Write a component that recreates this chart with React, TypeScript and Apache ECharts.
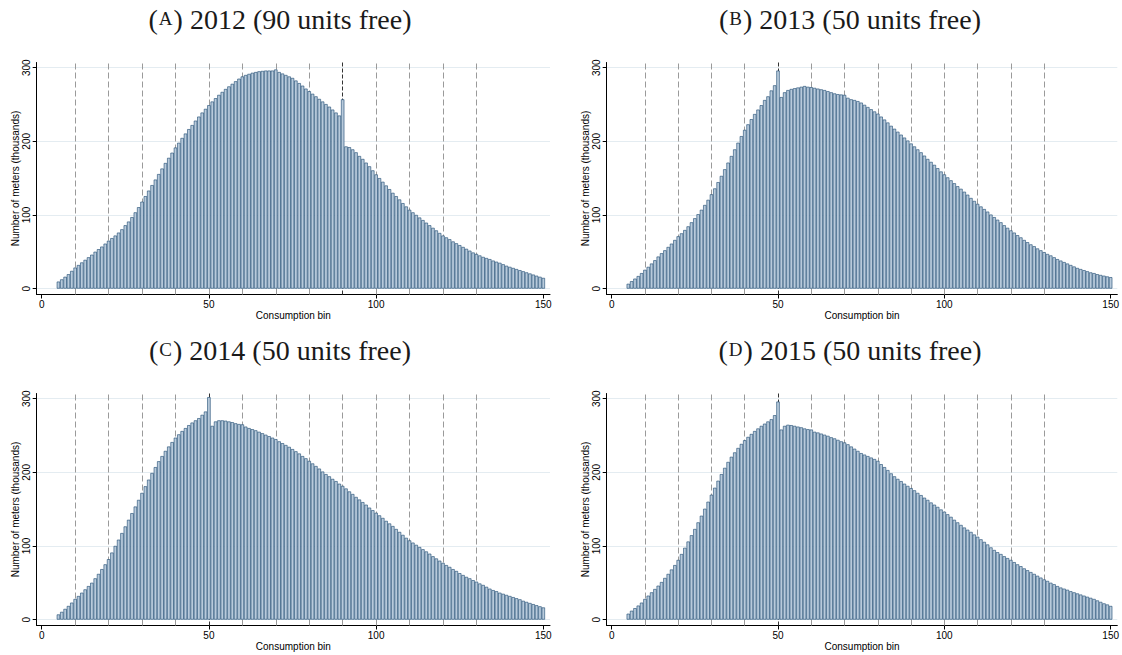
import React, { useEffect, useRef } from "react";
import * as echarts from "echarts";

// Consumption bins 5..150 (one bar per unit bin)
const bins: number[] = [];
for (let b = 5; b <= 150; b++) bins.push(b);

const years = ["2012", "2013", "2014", "2015"];
const letters = ["A", "B", "C", "D"];
const freeUnits = [90, 50, 50, 50];
const refLines = [10, 20, 30, 40, 50, 60, 70, 80, 90, 100, 110, 120, 130];
const yTicks = [0, 100, 200, 300];
const xTicks = [0, 50, 100, 150];
const xName = "Consumption bin";
const yName = "Number of meters (thousands)";

// Number of meters (thousands) per bin, bins 5..150
const v2012 = [
  9.5, 12.5, 16, 19.5, 24, 28.5, 32, 35.5, 39, 42.5,
  46, 50, 53.5, 57, 61, 65, 68.5, 72, 76, 80.5,
  86, 91, 97, 103.5, 110.5, 118, 125.5, 133, 140.5, 148,
  155.5, 163, 170.5, 177.5, 184.5, 191.5, 198, 204.5, 210.5, 216.5,
  222, 228, 233.5, 239, 244, 249, 254, 258.5, 263, 267,
  271, 274.5, 278, 281.5, 285, 288, 290, 291.5, 293, 294,
  295, 295.5, 296, 296, 296, 297.5, 294, 292, 290, 288,
  286, 282.5, 279, 275.5, 271.5, 268, 264.5, 261, 257.5, 254,
  250.5, 247, 243, 239, 235, 257, 193, 192, 189, 185,
  180, 176, 171, 166, 160.5, 155, 150, 145, 140, 135,
  130, 125.5, 121, 116, 111.5, 107, 103.5, 100, 96.5, 93,
  89.5, 86, 82.5, 79, 75.5, 72, 69.5, 67, 64, 61.5,
  59, 56.5, 54, 51.5, 49, 47, 45, 43, 41.5, 40,
  38, 36.5, 35, 33, 31, 29.5, 28, 26.5, 25, 23.5,
  22, 20.5, 19, 17.5, 16, 14.5,
];
const v2013 = [
  6.5, 10, 13.5, 17, 21, 25.5, 29.5, 34, 38.5, 43.5,
  48, 52, 56.5, 61, 66, 71, 75, 79.5, 84.5, 90,
  95.5, 101, 107, 113.5, 120.5, 128, 136, 144.5, 153, 162,
  171, 180, 189, 198, 207, 215.5, 223, 230, 237, 243,
  249, 256, 261, 269, 276, 296, 260, 266.5, 269.5, 271,
  272, 273, 274, 275, 274, 273.5, 272.5, 271.5, 270.5, 269.5,
  268, 266.5, 265, 264, 263.5, 263, 259, 257, 256, 254.5,
  252.5, 249.5, 246.5, 243.5, 240.5, 237.5, 233.5, 229.5, 225.5, 221,
  217, 213, 209, 205, 201, 197, 193, 189, 185, 180.5,
  176, 172, 168, 163.5, 159, 155, 151, 147, 143, 139,
  135.5, 131.5, 127.5, 123, 119, 115, 111.5, 108, 104.5, 100.5,
  97, 93.5, 90, 86, 82.5, 79, 76, 72.5, 69.5, 66,
  63, 60, 57.5, 54.5, 52, 49.5, 47, 45, 42.5, 40,
  38, 36, 34, 32, 30, 28, 26.5, 25, 23.5, 22,
  21, 19.5, 18.5, 17.5, 16.5, 15.5,
];
const v2014 = [
  7, 10.5, 14.5, 18.5, 23, 28, 32, 36.5, 41, 45.5,
  50, 56, 62, 68.5, 75, 82, 91, 100, 108.5, 117.5,
  126.5, 135.5, 144.5, 153.5, 162.5, 172, 181, 190, 199, 207,
  215, 222, 229, 235, 241, 247, 251.5, 256, 260, 264,
  267.5, 270.5, 273.5, 278, 282.5, 302, 263, 269, 270.5, 270.5,
  270, 269, 268, 266.5, 265.5, 265, 262, 260, 258.5, 257,
  255, 253, 251, 249, 247, 245, 242, 239.5, 237, 234.5,
  231.5, 228.5, 225.5, 222, 219, 215.5, 212, 208.5, 205, 201,
  197.5, 194.5, 191, 188, 184.5, 181.5, 178, 174, 170.5, 166.5,
  163, 159.5, 156, 152, 148.5, 145, 141.5, 138, 134, 130.5,
  127, 123, 119, 115, 111, 107.5, 104.5, 101.5, 98.5, 95.5,
  92.5, 89.5, 86, 83, 80, 77, 74, 71.5, 68.5, 66,
  63, 60.5, 58, 56, 53.5, 51.5, 49, 47, 44.5, 42,
  40, 38.5, 36.5, 35, 33.5, 32, 30.5, 29, 27.5, 25.5,
  24, 22.5, 21, 19.5, 18, 16.5,
];
const v2015 = [
  8, 12, 15.5, 19, 23, 28, 32.5, 37, 41.5, 46,
  51, 56.5, 62, 68, 74, 81, 89, 97.5, 106, 114.5,
  123, 132, 141, 150.5, 160, 169.5, 179, 188.5, 197.5, 206,
  214, 221, 227, 233, 238.5, 243.5, 248, 252, 256, 259.5,
  263, 266, 269, 272, 277.5, 296, 258, 263, 264.5, 264,
  263, 262, 261, 259.5, 258.5, 258, 255, 254, 252.5, 251,
  249.5, 247.5, 246, 244, 242, 240.5, 238, 235, 232, 229,
  226, 224, 222, 220, 218, 215.5, 211, 207, 203, 198.5,
  194.5, 191, 188, 184.5, 181.5, 178.5, 175.5, 172, 169, 165.5,
  162.5, 159, 156, 153, 149.5, 146.5, 143, 139.5, 135.5, 132,
  128.5, 125, 122, 119, 115.5, 112.5, 109, 105.5, 102, 98,
  94.5, 91.5, 89, 86, 83.5, 81, 78, 75, 72.5, 69.5,
  67, 64.5, 62, 59.5, 57, 54.5, 52.5, 50, 48, 45.5,
  43.5, 42, 40.5, 38.5, 37, 35.5, 34, 32.5, 31, 29.5,
  28, 26, 24, 22, 20.5, 18.5,
];
const seriesValues = [v2012, v2013, v2014, v2015];

// layout (pixels)
const layout = [
  { left: 36.7, top: 62.5, width: 513.3, tx: 280, ty: 19 },
  { left: 606.7, top: 62.5, width: 512.7, tx: 850, ty: 19 },
  { left: 36.7, top: 393.5, width: 513.3, tx: 280, ty: 350.5 },
  { left: 606.7, top: 393.5, width: 512.7, tx: 850, ty: 350.5 },
];
const GRID_H = 232;
const X_MIN = -1.5;
const X_MAX = 152;
const Y_MIN = -8;
const Y_MAX = 307;
const SANS = "Liberation Sans, Arial, sans-serif";
const SERIF = "Liberation Serif, Times New Roman, serif";

function buildOption() {
  const grid: any[] = [];
  const xAxis: any[] = [];
  const yAxis: any[] = [];
  const series: any[] = [];
  const graphic: any[] = [];

  layout.forEach((L, i) => {
    grid.push({ left: L.left, top: L.top, width: L.width, height: GRID_H, containLabel: false });
    xAxis.push({
      gridIndex: i,
      type: "value",
      min: X_MIN,
      max: X_MAX,
      name: xName,
      nameLocation: "middle",
      nameGap: 15,
      nameTextStyle: { fontFamily: SANS, fontSize: 10, color: "#000" },
      axisLine: { show: true, onZero: false, lineStyle: { color: "#000", width: 1 } },
      axisTick: { show: true, customValues: xTicks, length: 4, lineStyle: { color: "#000", width: 1 } },
      axisLabel: { customValues: xTicks, fontFamily: SANS, fontSize: 10, color: "#000", margin: 5 },
      splitLine: { show: false },
    });
    yAxis.push({
      gridIndex: i,
      type: "value",
      min: Y_MIN,
      max: Y_MAX,
      name: yName,
      nameLocation: "middle",
      nameGap: 16,
      nameRotate: 90,
      nameTextStyle: { fontFamily: SANS, fontSize: 10, color: "#000" },
      axisLine: { show: true, onZero: false, lineStyle: { color: "#000", width: 1 } },
      axisTick: { show: true, customValues: yTicks, length: 4, lineStyle: { color: "#000", width: 1 } },
      axisLabel: { customValues: yTicks, rotate: 90, fontFamily: SANS, fontSize: 10, color: "#000", margin: 5 },
      splitLine: { show: false },
    });

    // horizontal grid lines (behind everything)
    series.push({
      type: "line",
      xAxisIndex: i,
      yAxisIndex: i,
      data: [],
      z: 0,
      silent: true,
      markLine: {
        silent: true,
        z: 0,
        symbol: ["none", "none"],
        label: { show: false },
        lineStyle: { type: "solid", color: "#e4ecf1", width: 1 },
        data: yTicks.map((v) => ({ yAxis: v })),
      },
    });
    // vertical dashed reference lines (behind bars)
    series.push({
      type: "line",
      xAxisIndex: i,
      yAxisIndex: i,
      data: [],
      z: 1,
      silent: true,
      markLine: {
        silent: true,
        z: 1,
        symbol: ["none", "none"],
        label: { show: false },
        lineStyle: { type: [6, 3], color: "#9a9a9a", width: 1 },
        data: refLines.map((v) =>
          v === freeUnits[i]
            ? { xAxis: v, lineStyle: { type: [4, 2], color: "#333", width: 1 } }
            : { xAxis: v }
        ),
      },
    });
    // histogram bars
    const bw = L.width / (X_MAX - X_MIN);
    series.push({
      type: "bar",
      xAxisIndex: i,
      yAxisIndex: i,
      z: 3,
      barWidth: bw,
      itemStyle: { color: "#b8cadb", borderColor: "#1a476f", borderWidth: 0.6 },
      data: bins.map((b, k) => [b, seriesValues[i][k]]),
    });

    graphic.push({
      type: "text",
      x: L.tx,
      y: L.ty,
      style: {
        text: `({sc|${letters[i]}}) ${years[i]} (${freeUnits[i]} units free)`,
        align: "center",
        verticalAlign: "middle",
        fontFamily: SERIF,
        fontSize: 28,
        fill: "#1a1a1a",
        rich: {
          sc: { fontFamily: SERIF, fontSize: 19, fill: "#1a1a1a", padding: [0, 1, 2, 1] },
        },
      },
    });
  });

  return {
    animation: false,
    backgroundColor: "#ffffff",
    grid,
    xAxis,
    yAxis,
    series,
    graphic,
  };
}

export default function App() {
  const ref = useRef<HTMLDivElement>(null);
  useEffect(() => {
    if (!ref.current) return;
    const chart = echarts.init(ref.current, null, { renderer: "svg" });
    chart.setOption(buildOption() as any);
    return () => chart.dispose();
  }, []);
  return (
    <div
      ref={ref}
      style={{ position: "fixed", left: 0, top: 0, width: 1122, height: 655, background: "#fff" }}
    />
  );
}
